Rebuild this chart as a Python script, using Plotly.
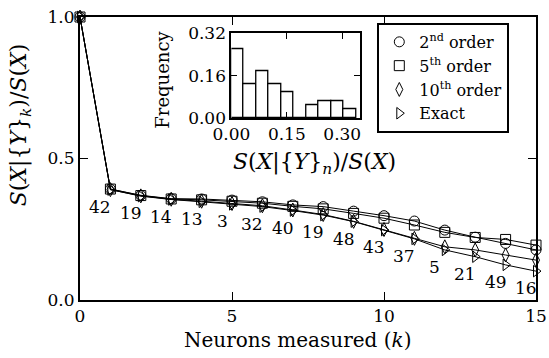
import plotly.graph_objects as go

# ---- data ----
k_vals = list(range(16))
order2 = [1.0, 0.392, 0.370, 0.358, 0.357, 0.353, 0.347, 0.336, 0.330, 0.314, 0.298, 0.279, 0.247, 0.222, 0.200, 0.177]
order5 = [1.0, 0.392, 0.369, 0.357, 0.354, 0.349, 0.342, 0.331, 0.322, 0.306, 0.289, 0.265, 0.239, 0.221, 0.214, 0.194]
order10 = [1.0, 0.390, 0.368, 0.356, 0.349, 0.341, 0.333, 0.318, 0.302, 0.278, 0.249, 0.218, 0.188, 0.177, 0.159, 0.141]
exact = [1.0, 0.390, 0.367, 0.355, 0.347, 0.338, 0.330, 0.316, 0.300, 0.277, 0.247, 0.216, 0.177, 0.153, 0.124, 0.102]
neuron_ids = ["", "42", "19", "14", "13", "3", "32", "40", "19", "48", "43", "37", "5", "21", "49", "16"]

hist_edges = [0.0, 0.0338, 0.0676, 0.1014, 0.1352, 0.169, 0.2028, 0.2366, 0.2704, 0.3042, 0.338]
hist_freq = [0.258, 0.129, 0.177, 0.129, 0.097, 0.0, 0.048, 0.065, 0.065, 0.032]

series = [
    ("2<sup>nd</sup> order", order2, "circle-open"),
    ("5<sup>th</sup> order", order5, "square-open"),
    ("10<sup>th</sup> order", order10, "diamond-tall-open"),
    ("Exact", exact, "triangle-right-open"),
]

FONT = "DejaVu Serif"
FS = 17      # tick labels / annotations

fig = go.Figure()
for name, vals, sym in series:
    fig.add_trace(go.Scatter(
        x=k_vals, y=vals, mode="lines+markers", showlegend=False,
        line=dict(color="black", width=1),
        marker=dict(symbol=sym, size=10, color="black", line=dict(width=1, color="black")),
        xaxis="x", yaxis="y", cliponaxis=False))
for name, vals, sym in series:
    fig.add_trace(go.Scatter(
        x=[None], y=[None], mode="markers", name=name, showlegend=True,
        marker=dict(symbol=sym, size=10, color="black", line=dict(width=1, color="black")),
        xaxis="x", yaxis="y"))

# inset histogram
centers = [(a + b) / 2 for a, b in zip(hist_edges[:-1], hist_edges[1:])]
widths = [b - a for a, b in zip(hist_edges[:-1], hist_edges[1:])]
fig.add_trace(go.Bar(
    x=centers, y=hist_freq, width=widths, showlegend=False,
    marker=dict(color="white", line=dict(color="black", width=1.3)),
    xaxis="x2", yaxis="y2"))

annotations = []
for k, v, lab in zip(k_vals, exact, neuron_ids):
    if lab:
        annotations.append(dict(
            x=k, y=v, xref="x", yref="y", text=lab, showarrow=False,
            xshift=-10, yshift=-17, font=dict(family=FONT, size=FS, color="black")))

# axis titles as annotations (positioned like the original)
title_font = dict(family=FONT, color="black")
annotations += [
    dict(text="Neurons measured (<i>k</i>)", x=0.479, y=-0.141, xref="paper", yref="paper",
         showarrow=False, xanchor="center", yanchor="middle", font=dict(size=20, **title_font)),
    dict(text="<i>S</i>(<i>X</i>|{<i>Y</i>}<sub><i>k</i></sub>)/<i>S</i>(<i>X</i>)",
         x=-0.130, y=0.620, xref="paper", yref="paper", textangle=-90,
         showarrow=False, xanchor="center", yanchor="middle", font=dict(size=22, **title_font)),
    dict(text="<i>S</i>(<i>X</i>|{<i>Y</i>}<sub><i>n</i></sub>)/<i>S</i>(<i>X</i>)",
         x=0.514, y=0.482, xref="paper", yref="paper",
         showarrow=False, xanchor="center", yanchor="middle", font=dict(size=22, **title_font)),
    dict(text="Frequency", x=0.181, y=0.777, xref="paper", yref="paper", textangle=-90,
         showarrow=False, xanchor="center", yanchor="middle", font=dict(size=18, **title_font)),
]

axis_common = dict(showline=True, linecolor="black", linewidth=2, mirror="ticks",
                   ticks="inside", tickcolor="black", tickwidth=1, showgrid=False,
                   zeroline=False, automargin=False,
                   tickfont=dict(family=FONT, size=FS, color="black"))

fig.update_layout(
    width=549, height=358,
    margin=dict(l=80, r=13, t=17, b=58, autoexpand=False),
    paper_bgcolor="white", plot_bgcolor="white",
    font=dict(family=FONT, size=FS, color="black"),
    xaxis=dict(range=[0, 15], tickvals=[0, 5, 10, 15], ticklen=8, **axis_common),
    yaxis=dict(range=[0, 1.0], tickvals=[0.0, 0.5, 1.0], tickformat=".1f", ticklen=8, **axis_common),
    xaxis2=dict(domain=[0.332, 0.614], anchor="y2", range=[0, 0.348],
                tickvals=[0.0, 0.15, 0.30], tickformat=".2f", ticklen=6, **axis_common),
    yaxis2=dict(domain=[0.643, 0.943], anchor="x2", range=[0, 0.32],
                tickvals=[0.0, 0.16, 0.32], tickformat=".2f", ticklen=6, **axis_common),
    legend=dict(x=0.652, y=0.979, xanchor="left", yanchor="top",
                bordercolor="black", borderwidth=2, bgcolor="white",
                font=dict(family=FONT, size=16, color="black"),
                tracegroupgap=0, itemwidth=30),
    annotations=annotations,
    bargap=0,
)

fig.write_html("out.html", post_script="document.body.style.margin='0';",
               config={"displayModeBar": False})
